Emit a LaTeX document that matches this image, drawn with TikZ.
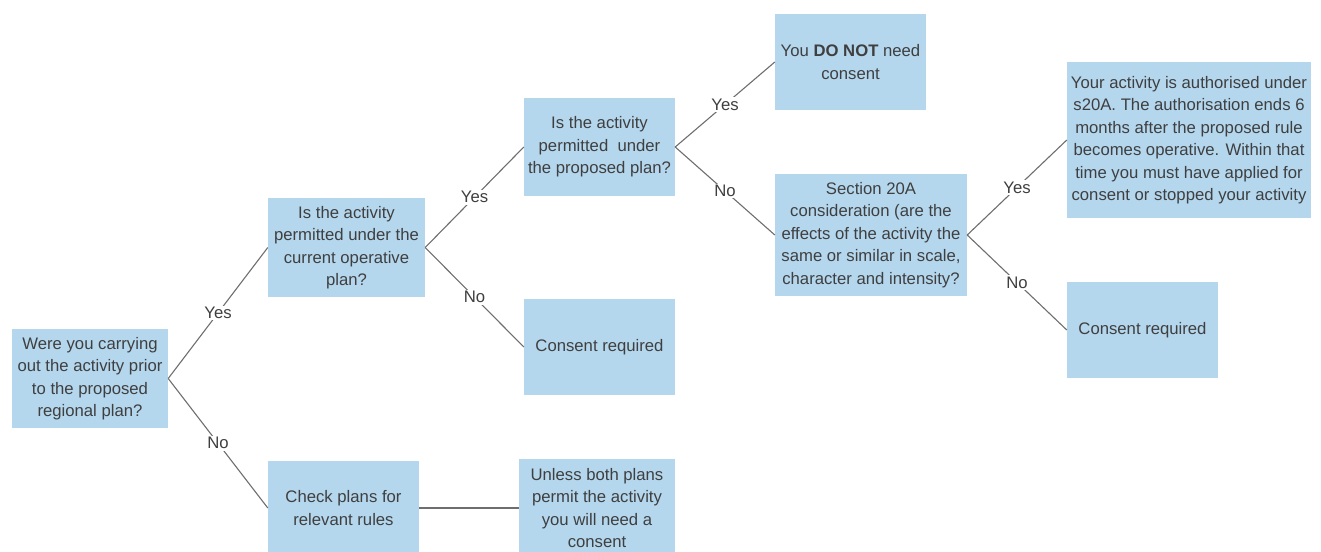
\documentclass[tikz,border=0pt]{standalone}
\usepackage{fontspec}
\setmainfont{Liberation Sans}
\usepackage{xcolor}
\usetikzlibrary{positioning}

\definecolor{boxblue}{HTML}{B4D7EE}
\definecolor{txtgray}{HTML}{3F3F3F}
\definecolor{linegray}{HTML}{6E6E6E}

\begin{document}
\begin{tikzpicture}[
    x=1pt, y=-1pt,
    font=\fontsize{16.7}{22.5}\selectfont,
    box/.style={fill=boxblue, text=txtgray, align=center, inner sep=0pt},
    link/.style={draw=linegray, line width=1.1pt},
    lbl/.style={fill=white, text=txtgray, inner sep=1.5pt}
]
    \clip (0,0) rectangle (1321,551);

    \node[box, minimum width=156, minimum height=99] (start) at (90,378.5)
        {Were you carrying\\out the activity prior\\to the proposed\\regional plan?};
    \node[box, minimum width=157, minimum height=99] (curq) at (346.5,247.5)
        {Is the activity\\permitted under the\\current operative\\plan?};
    \node[box, minimum width=151, minimum height=94] (check) at (343.5,508)
        {Check plans for\\relevant rules};
    \node[box, minimum width=156, minimum height=98] (unless) at (597,508)
        {Unless both plans\\permit the activity\\you will need a\\consent};
    \node[box, minimum width=151, minimum height=98] (propq) at (599.5,147)
        {Is the activity\\permitted~~under\\the proposed plan?};
    \node[box, minimum width=151, minimum height=96] (cons1) at (599.5,347)
        {Consent required};
    \node[box, minimum width=151, minimum height=96] (nocons) at (850.5,62)
        {You \textbf{DO NOT} need\\consent};
    \node[box, minimum width=192, minimum height=122] (sec20) at (871,235)
        {Section 20A\\consideration (are the\\effects of the activity the\\same or similar in scale,\\character and intensity?};
    \node[box, minimum width=244, minimum height=156] (auth) at (1189,140)
        {Your activity is authorised under\\s20A. The authorisation ends 6\\months after the proposed rule\\becomes operative. Within that\\time you must have applied for\\consent or stopped your activity};
    \node[box, minimum width=151, minimum height=96] (cons2) at (1142.5,330)
        {Consent required};

    % decision branches
    \draw[link] (start.east) -- node[lbl] {Yes} (curq.west);
    \draw[link] (start.east) -- node[lbl] {No} (check.west);
    \draw[link] (curq.east) -- node[lbl] {Yes} (propq.west);
    \draw[link] (curq.east) -- node[lbl] {No} (cons1.west);
    \draw[link] (propq.east) -- node[lbl] {Yes} (nocons.west);
    \draw[link] (propq.east) -- node[lbl] {No} (sec20.west);
    \draw[link] (sec20.east) -- node[lbl] {Yes} (auth.west);
    \draw[link] (sec20.east) -- node[lbl] {No} (cons2.west);
    \draw[link] (check.east) -- (unless.west);
\end{tikzpicture}
\end{document}
